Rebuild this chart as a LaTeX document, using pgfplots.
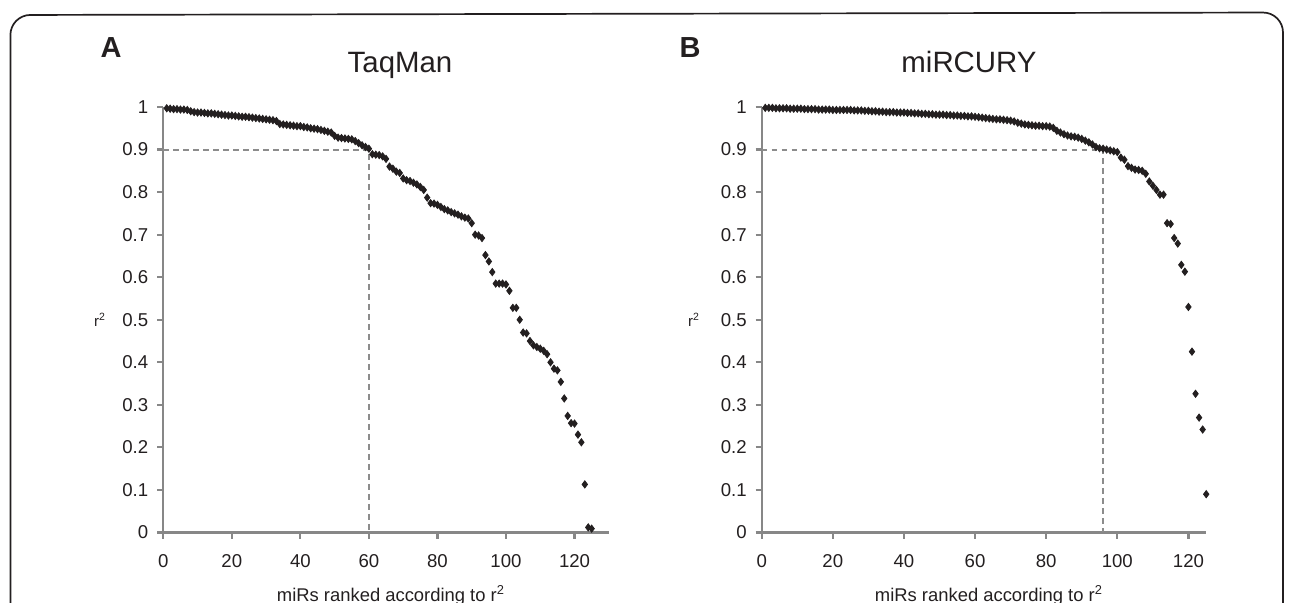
\documentclass[border=0pt]{standalone}
\usepackage{pgfplots}
\pgfplotsset{compat=1.18}
\usepackage{pgfplotstable}
\usepackage{fontspec}
\setmainfont{Liberation Sans}

\definecolor{axgray}{HTML}{878787}
\definecolor{dashgray}{HTML}{8C8C8C}
\definecolor{ink}{HTML}{231F20}

% r^2 per miR, ranked (panel A: TaqMan)
\pgfplotstableread{
x y
1 0.997
2 0.996
3 0.995
4 0.995
5 0.994
6 0.994
7 0.993
8 0.990
9 0.988
10 0.987
11 0.987
12 0.986
13 0.985
14 0.985
15 0.984
16 0.983
17 0.982
18 0.981
19 0.980
20 0.980
21 0.979
22 0.978
23 0.977
24 0.977
25 0.976
26 0.975
27 0.974
28 0.973
29 0.972
30 0.971
31 0.970
32 0.969
33 0.967
34 0.960
35 0.959
36 0.958
37 0.957
38 0.956
39 0.955
40 0.955
41 0.953
42 0.952
43 0.950
44 0.949
45 0.948
46 0.946
47 0.944
48 0.942
49 0.940
50 0.932
51 0.928
52 0.927
53 0.926
54 0.925
55 0.924
56 0.920
57 0.915
58 0.910
59 0.906
60 0.902
61 0.889
62 0.888
63 0.887
64 0.884
65 0.878
66 0.860
67 0.855
68 0.848
69 0.845
70 0.832
71 0.828
72 0.826
73 0.822
74 0.818
75 0.812
76 0.805
77 0.787
78 0.774
79 0.773
80 0.770
81 0.765
82 0.760
83 0.757
84 0.753
85 0.750
86 0.747
87 0.743
88 0.740
89 0.738
90 0.727
91 0.700
92 0.698
93 0.692
94 0.652
95 0.637
96 0.612
97 0.585
98 0.585
99 0.585
100 0.583
101 0.568
102 0.528
103 0.528
104 0.500
105 0.470
106 0.468
107 0.450
108 0.440
109 0.436
110 0.432
111 0.427
112 0.419
113 0.400
114 0.385
115 0.381
116 0.354
117 0.315
118 0.274
119 0.257
120 0.256
121 0.230
122 0.212
123 0.113
124 0.012
125 0.009
}\taqman

% panel B: miRCURY
\pgfplotstableread{
x y
1 0.998
2 0.998
3 0.998
4 0.997
5 0.997
6 0.997
7 0.997
8 0.996
9 0.996
10 0.996
11 0.996
12 0.995
13 0.995
14 0.995
15 0.995
16 0.994
17 0.994
18 0.994
19 0.994
20 0.993
21 0.993
22 0.993
23 0.993
24 0.993
25 0.993
26 0.992
27 0.992
28 0.992
29 0.991
30 0.991
31 0.990
32 0.990
33 0.989
34 0.989
35 0.988
36 0.988
37 0.988
38 0.987
39 0.987
40 0.987
41 0.986
42 0.986
43 0.985
44 0.985
45 0.984
46 0.984
47 0.983
48 0.983
49 0.982
50 0.982
51 0.982
52 0.981
53 0.981
54 0.980
55 0.980
56 0.979
57 0.979
58 0.978
59 0.978
60 0.977
61 0.976
62 0.975
63 0.974
64 0.973
65 0.972
66 0.971
67 0.971
68 0.970
69 0.969
70 0.968
71 0.966
72 0.963
73 0.961
74 0.959
75 0.958
76 0.957
77 0.956
78 0.956
79 0.955
80 0.955
81 0.954
82 0.951
83 0.944
84 0.940
85 0.936
86 0.933
87 0.931
88 0.930
89 0.928
90 0.925
91 0.921
92 0.917
93 0.912
94 0.906
95 0.903
96 0.902
97 0.900
98 0.898
99 0.896
100 0.894
101 0.881
102 0.876
103 0.861
104 0.857
105 0.853
106 0.852
107 0.850
108 0.843
109 0.825
110 0.815
111 0.805
112 0.794
113 0.794
114 0.727
115 0.725
116 0.692
117 0.679
118 0.629
119 0.613
120 0.530
121 0.425
122 0.326
123 0.270
124 0.242
125 0.090
}\mircury

\pgfplotsset{rankplot/.style={
    scale only axis,
    height=212.75pt,
    xmin=0, ymin=0, ymax=1,
    axis lines*=left,
    axis line style={axgray, line width=1.15pt},
    tick style={axgray, line width=1.1pt},
    tick align=outside,
    major tick length=3pt,
    xtick={0,20,40,60,80,100,120},
    ytick={0,0.1,0.2,0.3,0.4,0.5,0.6,0.7,0.8,0.9,1},
    yticklabel style={/pgf/number format/fixed, /pgf/number format/precision=1, xshift=-1pt},
    xticklabel style={yshift=-4.5pt},
    ticklabel style={font=\fontsize{9.3}{11}\selectfont, text=ink},
    /pgf/number format/assume math mode=true,
    clip=false,
}}

\begin{document}
\begin{tikzpicture}[x=0.5pt, y=-0.5pt]
\useasboundingbox (0,0) rectangle (1290,603);

% panel frame
\draw[ink, line width=0.85pt, rounded corners=10pt]
    (10.4,660) -- (10.4,15) -- (1283,12.5) -- (1283,660);

% A: TaqMan
\begin{axis}[rankplot, width=222.75pt, xmax=130,
    at={(81.65pt,-266.25pt)}, anchor=south west]
  \addplot[dashgray, line width=1pt, dash pattern=on 2.8pt off 2.2pt]
    coordinates {(0,0.9) (60,0.9) (60,0)};
  \addplot[only marks, mark=diamond*, mark size=1.8pt, ink] table {\taqman};
\end{axis}

% B: miRCURY
\begin{axis}[rankplot, width=222.25pt, xmax=125,
    at={(380.85pt,-266.25pt)}, anchor=south west]
  \addplot[dashgray, line width=1pt, dash pattern=on 2.8pt off 2.2pt]
    coordinates {(0,0.9) (96,0.9) (96,0)};
  \addplot[only marks, mark=diamond*, mark size=1.8pt, ink] table {\mircury};
\end{axis}

% titles, panel letters, axis labels
\node[anchor=base, text=ink, font=\fontsize{14.7}{17}\selectfont] at (400,73) {TaqMan};
\node[anchor=base, text=ink, font=\fontsize{14.7}{17}\selectfont] at (969,73) {miRCURY};
\node[anchor=base, text=ink, font=\bfseries\fontsize{14.5}{17}\selectfont] at (111,57.8) {A};
\node[anchor=base, text=ink, font=\bfseries\fontsize{14.5}{17}\selectfont] at (690,57.8) {B};
\node[text=ink, font=\fontsize{7.5}{8}\selectfont] at (100,320) {r\textsuperscript{2}};
\node[text=ink, font=\fontsize{7.5}{8}\selectfont] at (694,320) {r\textsuperscript{2}};
\node[anchor=base, text=ink, font=\fontsize{9.2}{11}\selectfont] at (391,602) {miRs ranked according to r\textsuperscript{2}};
\node[anchor=base, text=ink, font=\fontsize{9.2}{11}\selectfont] at (989,602) {miRs ranked according to r\textsuperscript{2}};
\end{tikzpicture}
\end{document}
